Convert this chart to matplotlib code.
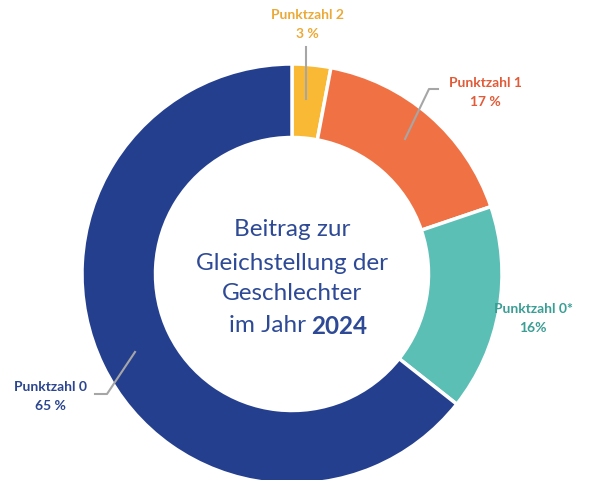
import matplotlib
matplotlib.use("Agg")
import matplotlib.pyplot as plt

categories = ["Punktzahl 2", "Punktzahl 1", "Punktzahl 0*", "Punktzahl 0"]
values = [3, 17, 16, 65]
value_labels = ["3 %", "17 %", "16%", "65 %"]
colors = ["#F9B934", "#F07244", "#5BBFB5", "#253F8F"]
label_colors = ["#EBAA38", "#E25A37", "#3A9E95", "#2B4590"]

W, H = 593, 481
fig = plt.figure(figsize=(W / 100, H / 100), dpi=100)
ax = fig.add_axes([0, 0, 1, 1])

cx, cy, R = 292, 275, 210
ax.pie(values, center=(cx, H - cy), radius=R, startangle=90, counterclock=False,
       colors=colors,
       wedgeprops=dict(width=R * 0.35, edgecolor="white", linewidth=2.5))
ax.set_xlim(0, W)
ax.set_ylim(0, H)
ax.axis("off")

font = ["Lato", "DejaVu Sans"]

# center title
title_color = "#2E4A96"
lines = ["Beitrag zur", "Gleichstellung der", "Geschlechter"]
ys = [230, 263, 294]
for t, y in zip(lines, ys):
    ax.text(cx, H - y, t, ha="center", va="center", fontsize=17.5,
            color=title_color, family=font)
ax.text(306, H - 326, "im Jahr", ha="right", va="center",
        fontsize=17.5, color=title_color, family=font)
ax.text(311, H - 326, "2024", ha="left", va="center", fontweight="bold",
        fontsize=17.5, color=title_color, family=font)

# labels
label_pos = [(307, 15), (485, 83), (533, 309), (50, 387)]
for cat, vl, col, (x, y) in zip(categories, value_labels, label_colors, label_pos):
    ax.text(x, H - y, cat, ha="center", va="center", fontsize=10,
            fontweight="bold", color=col, family=font)
    ax.text(x, H - y - 19, vl, ha="center", va="center", fontsize=10,
            fontweight="bold", color=col, family=font)

# leader lines
lc = "#A6A6A6"
ax.plot([306, 306], [H - 48, H - 100], color=lc, lw=1.5)
ax.plot([438, 429, 405], [H - 90, H - 90, H - 140], color=lc, lw=1.5)
ax.plot([95, 107, 135], [H - 395, H - 395, H - 353], color=lc, lw=1.5)

fig.savefig("out.png", dpi=100)
